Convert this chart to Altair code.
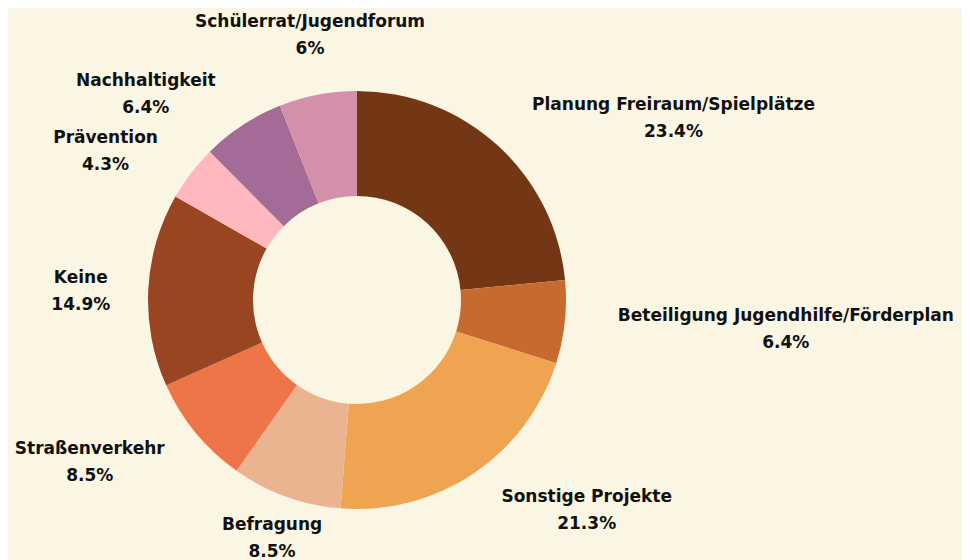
import math
import altair as alt
import pandas as pd

categories = [
    "Planung Freiraum/Spielplätze",
    "Beteiligung Jugendhilfe/Förderplan",
    "Sonstige Projekte",
    "Befragung",
    "Straßenverkehr",
    "Keine",
    "Prävention",
    "Nachhaltigkeit",
    "Schülerrat/Jugendforum",
]
shares = [23.4, 6.4, 21.3, 8.5, 8.5, 14.9, 4.3, 6.4, 6]
colors = ["#733716", "#C76A2F", "#EFA452", "#EBB491", "#EE7548",
          "#9A4521", "#FFB8BE", "#A46B97", "#D490AA"]

OUTER_R = 209
INNER_R = 104
LABEL_R = 250
CHAR_W = 10.6
HALF_H = 22
LINE_H = 27

total = sum(shares)
rows = []
cum = 0.0
for i, (cat, v) in enumerate(zip(categories, shares)):
    mid = (cum + v / 2) / total * 2 * math.pi
    cum += v
    s, c = math.sin(mid), math.cos(mid)
    ax, ay = LABEL_R * s, -LABEL_R * c
    w = len(cat) * CHAR_W
    sx = 1 if s > 0.4 else (-1 if s < -0.4 else 0)
    sy = -1 if c > 0.9 else 0
    cx, cy = ax + sx * w / 2, ay + sy * HALF_H
    ang = math.degrees(math.atan2(cx, -cy)) % 360
    dist = math.hypot(cx, cy)
    rows.append({
        "idx": i,
        "category": cat,
        "share": v,
        "label": f"{cat}\n{v:g}%",
        "lab_ang": ang,
        "lab_dist": dist,
    })

df = pd.DataFrame(rows)

arcs = alt.Chart(df).mark_arc(outerRadius=OUTER_R, innerRadius=INNER_R).encode(
    theta=alt.Theta("share:Q", stack=True),
    color=alt.Color("category:N", scale=alt.Scale(domain=categories, range=colors), legend=None),
    order=alt.Order("idx:Q"),
)

labels = alt.Chart(df).mark_text(
    font="DejaVu Sans", fontWeight="bold", fontSize=17, color="#111111",
    lineBreak="\n", lineHeight=LINE_H, align="center", baseline="middle",
    dy=-10,
).encode(
    theta=alt.Theta("lab_ang:Q", scale=alt.Scale(domain=[0, 360], range=[0, 2 * math.pi])),
    radius=alt.Radius("lab_dist:Q", scale=alt.Scale(type="linear", domain=[0, 600], range=[0, 600], zero=True)),
    text="label:N",
)

chart = alt.layer(arcs, labels).resolve_scale(theta="independent").properties(
    width=698,
    height=500,
    autosize=alt.AutoSizeParams(type="none"),
    padding={"left": 0, "top": 42, "right": 256, "bottom": 10},
    background="#FAF6E3",
).configure_view(stroke=None)

chart.save("out.html", embed_options={"renderer": "svg", "actions": False})
